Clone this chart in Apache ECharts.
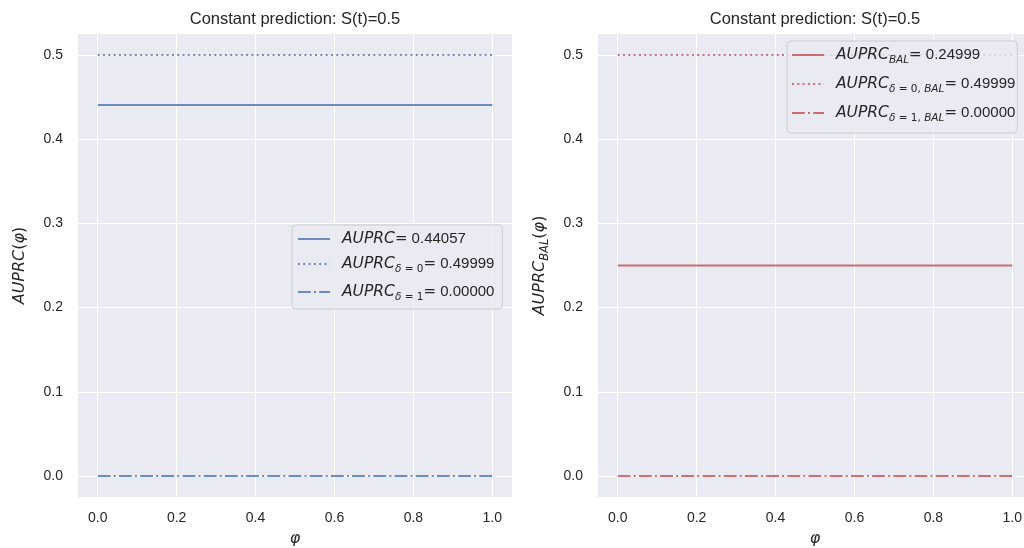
<!DOCTYPE html>
<html>
<head>
<meta charset="utf-8">
<script src="https://cdn.jsdelivr.net/npm/echarts@6/dist/echarts.min.js"></script>
<style>
  html, body { margin: 0; padding: 0; background: #ffffff; }
  #chart { width: 1024px; height: 548px; }
</style>
</head>
<body>
<div id="chart"></div>
<script>
// φ grid and constant curves for the two panels
const phi = [0.0, 1.0];
const auprc = [0.44057, 0.44057];
const auprcD0 = [0.49999, 0.49999];
const auprcD1 = [0.00000, 0.00000];
const auprcBal = [0.24999, 0.24999];
const auprcD0Bal = [0.49999, 0.49999];
const auprcD1Bal = [0.00000, 0.00000];

const xTicks = [0.0, 0.2, 0.4, 0.6, 0.8, 1.0];
const yTicks = [0.0, 0.1, 0.2, 0.3, 0.4, 0.5];
const titleText = 'Constant prediction: S(t)=0.5';

const BLUE = 'rgba(76,114,176,0.8)';
const RED = 'rgba(196,78,82,0.8)';
const TEXT = '#262626';
const DOTTED = [2, 3.3];
const DASHDOT = [12.8, 3.2, 2, 3.2];

// legend entries: name -> rich label
const legendLabels = {
  'AUPRC': '{f|AUPRC}{e|=}{v| ' + auprc[0].toFixed(5) + '}',
  'AUPRC δ=0': '{f|AUPRC}{s|δ}{u| = 0}{e|=}{v| ' + auprcD0[0].toFixed(5) + '}',
  'AUPRC δ=1': '{f|AUPRC}{s|δ}{u| = 1}{e|=}{v| ' + auprcD1[0].toFixed(5) + '}',
  'AUPRC BAL': '{f|AUPRC}{s|BAL}{e|=}{v| ' + auprcBal[0].toFixed(5) + '}',
  'AUPRC δ=0,BAL': '{f|AUPRC}{s|δ}{u| = 0, }{s|BAL}{e|=}{v| ' + auprcD0Bal[0].toFixed(5) + '}',
  'AUPRC δ=1,BAL': '{f|AUPRC}{s|δ}{u| = 1, }{s|BAL}{e|=}{v| ' + auprcD1Bal[0].toFixed(5) + '}'
};

const rich = {
  f: { fontFamily: 'DejaVu Sans', fontStyle: 'italic', fontSize: 15.5, color: TEXT, lineHeight: 22, verticalAlign: 'middle', padding: [0, 0, 0, 7] },
  s: { fontFamily: 'DejaVu Sans', fontStyle: 'italic', fontSize: 10.5, color: TEXT, lineHeight: 12, verticalAlign: 'bottom' },
  u: { fontFamily: 'DejaVu Sans', fontSize: 10.5, color: TEXT, lineHeight: 12, verticalAlign: 'bottom' },
  e: { fontFamily: 'DejaVu Sans', fontSize: 15, color: TEXT, lineHeight: 22, verticalAlign: 'middle' },
  v: { fontFamily: 'Liberation Sans', fontSize: 15, color: TEXT, lineHeight: 22, verticalAlign: 'middle' }
};

function pairs(ys) { return phi.map((x, i) => [x, ys[i]]); }

function xAxisFor(gridIndex) {
  return {
    gridIndex, type: 'value', min: -0.05, max: 1.05,
    name: 'φ', nameLocation: 'middle', nameGap: 34,
    nameTextStyle: { fontFamily: 'DejaVu Sans', fontStyle: 'italic', fontSize: 16, color: TEXT },
    axisLine: { show: false },
    axisTick: { show: false, customValues: xTicks },
    axisLabel: { customValues: xTicks, margin: 14, fontFamily: 'Liberation Sans', fontSize: 14, color: TEXT,
      formatter: v => v.toFixed(1) },
    splitLine: { show: true, lineStyle: { color: '#ffffff', width: 1 } }
  };
}
function yAxisFor(gridIndex, nameRich) {
  return {
    gridIndex, type: 'value', min: -0.025, max: 0.525,
    name: nameRich, nameLocation: 'middle', nameGap: 47,
    nameTextStyle: { rich: {
      m: { fontFamily: 'DejaVu Sans', fontStyle: 'italic', fontSize: 16, color: TEXT, lineHeight: 22, verticalAlign: 'middle' },
      s: { fontFamily: 'DejaVu Sans', fontStyle: 'italic', fontSize: 11.5, color: TEXT, lineHeight: 12, verticalAlign: 'bottom' },
      p: { fontFamily: 'DejaVu Sans', fontSize: 16, color: TEXT, lineHeight: 22, verticalAlign: 'middle' }
    } },
    axisLine: { show: false },
    axisTick: { show: false, customValues: yTicks },
    axisLabel: { customValues: yTicks, margin: 15, fontFamily: 'Liberation Sans', fontSize: 14, color: TEXT,
      formatter: v => v.toFixed(1) },
    splitLine: { show: true, lineStyle: { color: '#ffffff', width: 1 } }
  };
}

function lineSeries(name, idx, ys, color, type) {
  return {
    name, type: 'line', xAxisIndex: idx, yAxisIndex: idx,
    data: pairs(ys), symbol: 'none', silent: true, animation: false,
    lineStyle: { color, width: 2, type, cap: 'butt' },
    itemStyle: { color }
  };
}

function legendFor(names, left, top, gap, padding) {
  return {
    data: names, orient: 'vertical', left, top,
    itemWidth: 32, itemHeight: 14, itemGap: gap,
    padding,
    backgroundColor: 'rgba(234,234,242,0.8)',
    borderColor: '#cccccc', borderWidth: 1, borderRadius: 4,
    selectedMode: false,
    itemStyle: { color: 'rgba(0,0,0,0)', borderWidth: 0, opacity: 0 },
    formatter: n => legendLabels[n],
    textStyle: { rich }
  };
}

const chart = echarts.init(document.getElementById('chart'), null, { renderer: 'canvas' });
chart.setOption({
  backgroundColor: '#ffffff',
  animation: false,
  title: [
    { text: titleText, left: 295, top: 11, padding: 0, textAlign: 'center',
      textStyle: { fontFamily: 'Liberation Sans', fontSize: 16.5, fontWeight: 'normal', color: TEXT } },
    { text: titleText, left: 815, top: 11, padding: 0, textAlign: 'center',
      textStyle: { fontFamily: 'Liberation Sans', fontSize: 16.5, fontWeight: 'normal', color: TEXT } }
  ],
  grid: [
    { left: 78, top: 34, width: 434, height: 463, show: true, backgroundColor: '#EAEAF2', borderWidth: 0, outerBoundsMode: 'none' },
    { left: 598, top: 34, width: 434, height: 463, show: true, backgroundColor: '#EAEAF2', borderWidth: 0, outerBoundsMode: 'none' }
  ],
  xAxis: [xAxisFor(0), xAxisFor(1)],
  yAxis: [
    yAxisFor(0, '{m|AUPRC}{p|(}{m|φ}{p|)}'),
    yAxisFor(1, '{m|AUPRC}{s|BAL}{p|(}{m|φ}{p|)}')
  ],
  legend: [
    legendFor(['AUPRC', 'AUPRC δ=0', 'AUPRC δ=1'], 292, 225, 9, [6, 8, 6, 5]),
    legendFor(['AUPRC BAL', 'AUPRC δ=0,BAL', 'AUPRC δ=1,BAL'], 787, 41, 10, [6, 2, 9, 4])
  ],
  series: [
    lineSeries('AUPRC', 0, auprc, BLUE, 'solid'),
    lineSeries('AUPRC δ=0', 0, auprcD0, BLUE, DOTTED),
    lineSeries('AUPRC δ=1', 0, auprcD1, BLUE, DASHDOT),
    lineSeries('AUPRC BAL', 1, auprcBal, RED, 'solid'),
    lineSeries('AUPRC δ=0,BAL', 1, auprcD0Bal, RED, DOTTED),
    lineSeries('AUPRC δ=1,BAL', 1, auprcD1Bal, RED, DASHDOT)
  ]
});
</script>
</body>
</html>
